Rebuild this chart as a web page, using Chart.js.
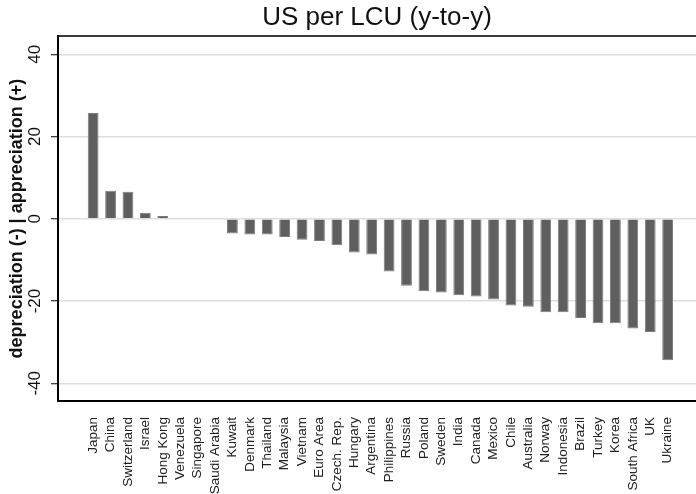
<!DOCTYPE html>
<html>
<head>
<meta charset="utf-8">
<script src="https://cdn.jsdelivr.net/npm/chart.js@4.4.0/dist/chart.umd.min.js"></script>
<style>
    html, body { margin: 0; padding: 0; background: #fff; }
    #wrap { width: 696px; height: 494px; }
</style>
</head>
<body>
<div id="wrap"><canvas id="fxChart"></canvas></div>
<script>
// US dollars per local currency unit, year-on-year change (%)

const countries = [
    'Japan', 'China', 'Switzerland', 'Israel', 'Hong Kong', 'Venezuela', 'Singapore',
    'Saudi Arabia', 'Kuwait', 'Denmark', 'Thailand', 'Malaysia', 'Vietnam', 'Euro Area',
    'Czech. Rep.', 'Hungary', 'Argentina', 'Philippines', 'Russia', 'Poland', 'Sweden',
    'India', 'Canada', 'Mexico', 'Chile', 'Australia', 'Norway', 'Indonesia', 'Brazil',
    'Turkey', 'Korea', 'South Africa', 'UK', 'Ukraine'
];

const changes = [
    25.7, 6.8, 6.6, 1.5, 0.7, 0, 0,
    0, -3.6, -3.8, -3.8, -4.4, -5.1, -5.4,
    -6.4, -8.2, -8.7, -12.8, -16.3, -17.6, -17.9,
    -18.6, -18.9, -19.6, -21.1, -21.4, -22.7, -22.7, -24.1,
    -25.4, -25.4, -26.7, -27.5, -34.4
];

const yTicks = [-40, -20, 0, 20, 40];

const FONT = '"Liberation Sans", Arial, Helvetica, sans-serif';

new Chart(document.getElementById('fxChart').getContext('2d'), {
    type: 'bar',
    data: {
        labels: countries.map((c, i) => i),
        datasets: [{
            label: 'US per LCU',
            data: changes,
            backgroundColor: '#5f5f5f',
            borderColor: '#7c7c7c',
            borderWidth: 1,
            barPercentage: 0.62,
            categoryPercentage: 1
        }]
    },
    options: {
        responsive: true,
        maintainAspectRatio: false,
        animation: false,
        devicePixelRatio: 1,
        layout: { padding: 0 },
        plugins: {
            legend: { display: false },
            tooltip: { enabled: false },
            title: {
                display: true,
                text: 'US per LCU (y-to-y)',
                fullSize: false,
                color: '#111',
                font: { family: FONT, size: 26, weight: 'normal' },
                padding: { top: 2, bottom: 3 }
            }
        },
        scales: {
            x: {
                type: 'linear',
                position: 'bottom',
                min: -1.48,
                max: 34.09,
                afterBuildTicks: scale => {
                    scale.ticks = countries.map((c, i) => ({ value: i }));
                },
                afterFit: scale => { scale.height = 93; },
                grid: { display: false },
                border: { display: true, color: '#000', width: 2 },
                ticks: {
                    autoSkip: false,
                    minRotation: 90,
                    maxRotation: 90,
                    padding: 8,
                    color: '#222',
                    font: { family: FONT, size: 13.5 },
                    callback: v => countries[v]
                }
            },
            x2: {
                type: 'linear',
                position: 'top',
                display: true,
                grid: { display: false, drawTicks: false },
                border: { display: true, color: '#3a3a3a', width: 2 },
                ticks: { display: false }
            },
            y: {
                min: -44.3,
                max: 44.4,
                afterBuildTicks: scale => {
                    scale.ticks = yTicks.map(v => ({ value: v }));
                },
                afterFit: scale => { scale.width = 58; },
                grid: {
                    color: '#dedede',
                    lineWidth: 1.5,
                    tickColor: '#000',
                    tickLength: 7,
                    tickWidth: 1
                },
                border: { display: true, color: '#000', width: 2 },
                ticks: {
                    minRotation: 90,
                    maxRotation: 90,
                    crossAlign: 'center',
                    padding: 3,
                    color: '#111',
                    font: { family: FONT, size: 17 }
                },
                title: {
                    display: true,
                    text: 'depreciation (-) | appreciation (+)',
                    color: '#111',
                    font: { family: FONT, size: 18, weight: 'bold' },
                    padding: { top: 6, bottom: 0 }
                }
            }
        }
    }
});
</script>
</body>
</html>
